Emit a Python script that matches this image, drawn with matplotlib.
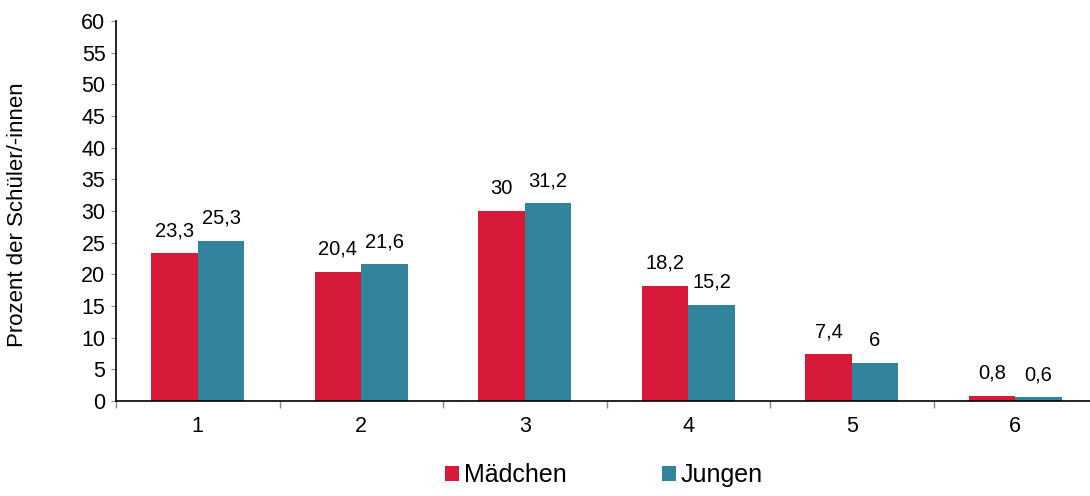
import matplotlib
matplotlib.use("Agg")
from matplotlib import pyplot as plt
import numpy as np

plt.rcParams['font.family'] = ['Liberation Sans', 'DejaVu Sans']

categories = ['1', '2', '3', '4', '5', '6']
maedchen = [23.3, 20.4, 30, 18.2, 7.4, 0.8]
jungen = [25.3, 21.6, 31.2, 15.2, 6, 0.6]
series_names = ['Mädchen', 'Jungen']
colors = ['#D7193A', '#31849B']

fig = plt.figure(figsize=(10.9, 4.96), dpi=100)
ax = fig.add_axes([116/1090, 1-401/496, 981/1090, 380/496])

x = np.arange(1, len(categories)+1)
w = 0.285
b1 = ax.bar(x - w/2, maedchen, width=w, color=colors[0], label=series_names[0])
b2 = ax.bar(x + w/2, jungen, width=w, color=colors[1], label=series_names[1])

# Werte mit Dezimalkomma
for bars, vals in [(b1, maedchen), (b2, jungen)]:
    for r, v in zip(bars, vals):
        ax.text(r.get_x() + r.get_width()/2, v + 2.7, str(v).replace('.', ','),
                ha='center', va='baseline', fontsize=14.5)

ax.set_xlim(0.5, len(categories)+0.5)
ax.set_ylim(0, 60)
ax.set_yticks(range(0, 61, 5))
ax.set_xticks(x)
ax.set_xticklabels(categories)
ax.set_xticks(np.arange(0.5, len(categories)+1, 1), minor=True)
ax.tick_params(axis='x', which='major', length=0, labelsize=15.5, pad=11)
ax.tick_params(axis='x', which='minor', length=5, color='#888888', width=1)
ax.tick_params(axis='y', length=3.6, color='#888888', labelsize=15.5, pad=4)

for s in ['top', 'right']:
    ax.spines[s].set_visible(False)
ax.spines['left'].set_linewidth(1.2)
ax.spines['bottom'].set_linewidth(1.2)

fig.text(18/1090, 1-215/496, 'Prozent der Schüler/-innen', rotation=90,
         ha='center', va='center', fontsize=16)

fig.legend(handles=[b1, b2], labels=series_names, loc='center',
           bbox_to_anchor=(604/1090, 1-475/496), ncol=2, frameon=False,
           fontsize=18, handlelength=0.56, handleheight=0.56, handletextpad=0.2,
           columnspacing=3.8, borderpad=0)

fig.savefig('out.png', dpi=100)
